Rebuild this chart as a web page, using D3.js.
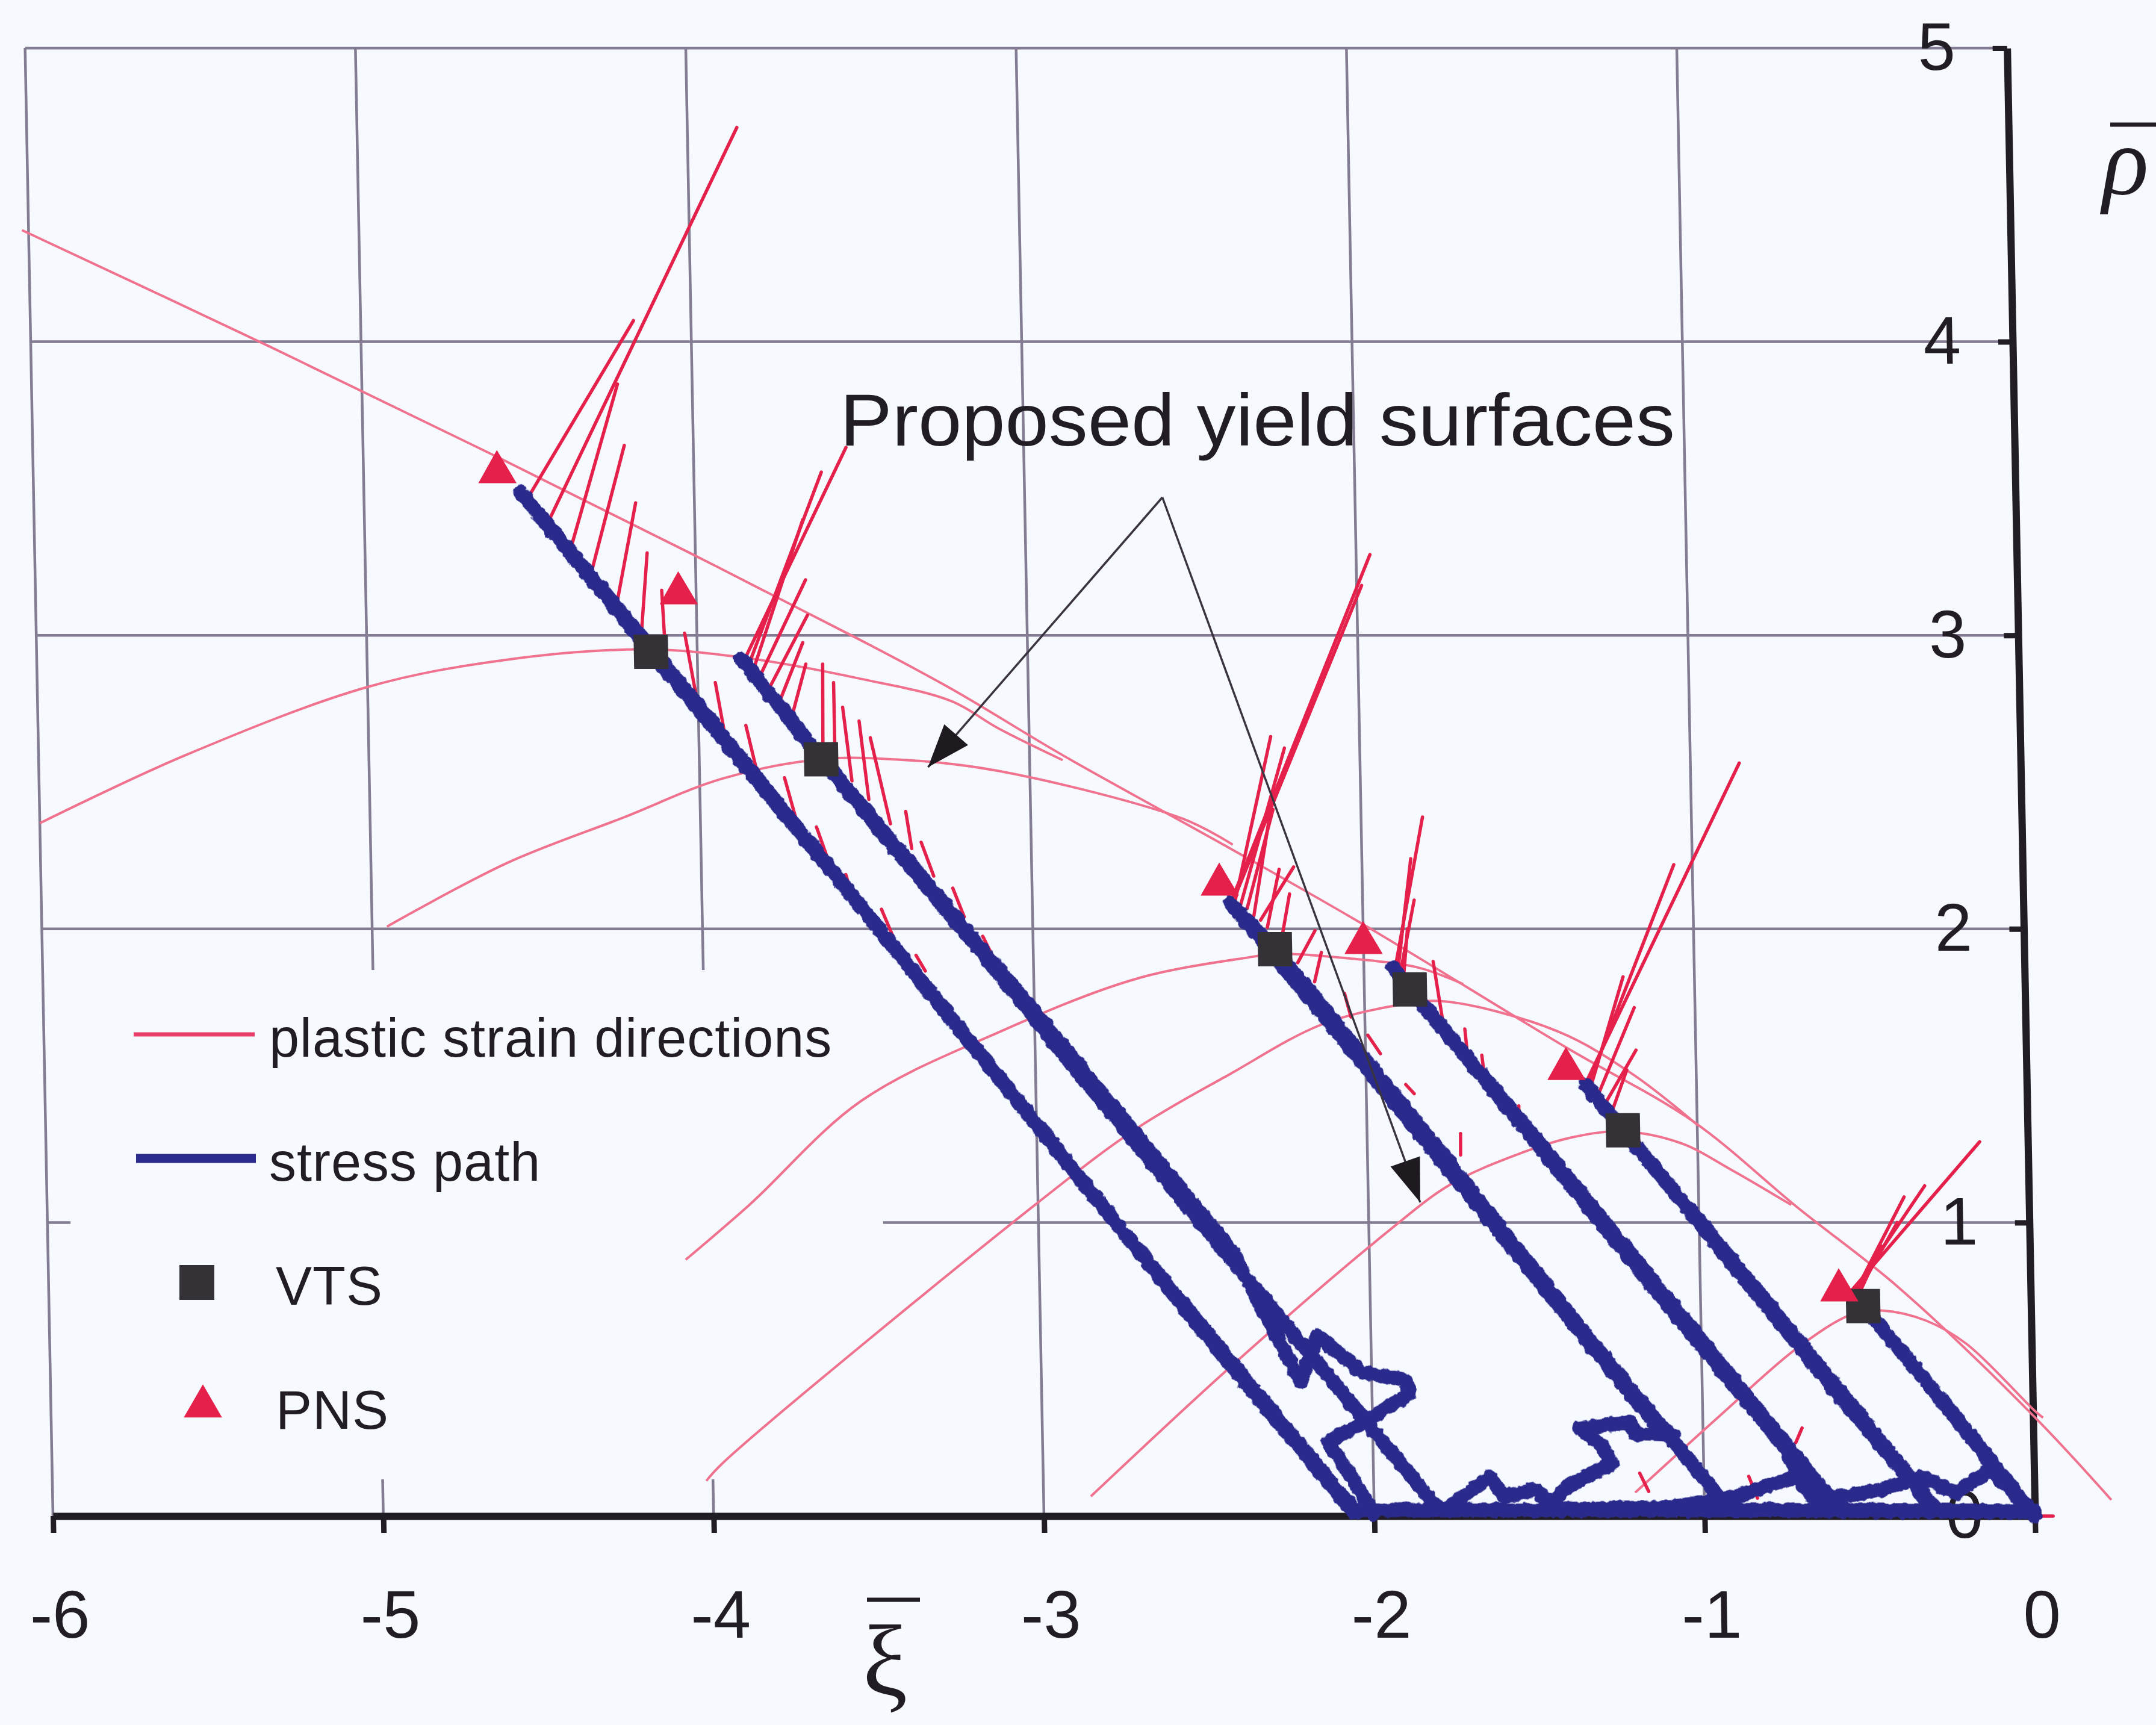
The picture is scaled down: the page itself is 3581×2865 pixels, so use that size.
<!DOCTYPE html>
<html>
<head>
<meta charset="utf-8">
<script src="https://cdn.jsdelivr.net/npm/d3@7"></script>
<style>
  html, body { margin: 0; padding: 0; background: #f6f9fd; }
  svg { display: block; }
</style>
</head>
<body>
<svg id="chart" width="3581" height="2865"></svg>
<script>
// ---------- axes ----------
const xTicks = [-6, -5, -4, -3, -2, -1, 0];
const yTicks = [0, 1, 2, 3, 4, 5];
const gridX = [-6, -5, -4, -3, -2, -1];
const gridY = [1, 2, 3, 4, 5];

// ---------- yield surfaces (xi, rho) ----------
const envelope = [[-6.02,4.38],[-5.27,3.98],[-4.593,3.607],[-4.014,3.279],[-3.526,2.996],[-3.233,2.818],
  [-2.897,2.590],[-2.401,2.276],[-1.999,2.015],[-1.392,1.596],[-1.013,1.345],[-0.70,1.05],[-0.40,0.779],
  [0.004,0.338],[0.232,0.055]];
const surface1 = [[-6.0,2.36],[-5.559,2.590],[-4.997,2.825],[-4.577,2.917],[-4.158,2.952],[-3.853,2.923],
  [-3.507,2.852],[-3.234,2.776],[-3.091,2.682],[-2.90,2.575]];
const surface2 = [[-4.955,2.008],[-4.589,2.224],[-4.234,2.379],[-3.931,2.512],[-3.631,2.578],[-3.40,2.577],
  [-3.094,2.538],[-2.539,2.375],[-2.39,2.287]];
const surface3 = [[-4.07,0.873],[-3.872,1.062],[-3.531,1.413],[-3.109,1.648],[-2.687,1.831],[-2.337,1.905],
  [-2.268,1.915],[-2.05,1.90],[-1.835,1.868],[-1.70,1.812]];
const surface4 = [[-4.02,0.12],[-3.97,0.18],[-3.007,1.062],[-2.696,1.321],[-2.414,1.504],[-2.132,1.674],
  [-1.90,1.74],[-1.757,1.753],[-1.415,1.650],[-1.186,1.50],[-0.997,1.33]];
const surface5 = [[-2.857,0.067],[-2.415,0.52],[-1.953,0.96],[-1.75,1.13],[-1.55,1.23],[-1.38,1.29],
  [-1.225,1.31],[-1.05,1.27],[-0.90,1.18],[-0.72,1.06]];
const surface6 = [[-1.209,0.08],[-0.95,0.34],[-0.706,0.576],[-0.539,0.689],[-0.45,0.70],[-0.319,0.666],
  [-0.198,0.587],[0.004,0.36],[0.03,0.335]];

// ---------- stress paths (xi, rho) ----------
const path1 = [[0,0.01],[-0.069,0.089],[-0.137,0.157],[-0.235,0.078],[-0.343,0.134],[-0.467,0.089],[-0.638,0.055],
  [-0.706,0.135],[-0.816,0.101],[-0.898,0.067],[-1.10,0.03],[-1.443,0.021],[-1.511,0.089],[-1.607,0.067],
  [-1.647,0.134],[-1.786,0.021],[-2.06,0.02],[-2.81,1.06],[-3.55,2.12],[-4.14,2.944],[-4.526,3.488],
  [-4.12,2.93],[-3.31,1.78],[-2.431,0.52],[-2.06,0.01]];
const path2 = [[0,0.015],[-0.9,0.02],[-1.40,0.02],[-1.802,0.02],[-2.553,1.062],[-3.20,1.98],[-3.631,2.578],
  [-3.869,2.923],[-3.62,2.57],[-2.90,1.58],[-2.409,0.892],[-2.215,0.457],[-2.161,0.613],[-2.028,0.49],
  [-1.894,0.463],[-1.886,0.416],[-2.014,0.327],[-2.134,0.253],[-2.05,0.10],[-2.003,0.01]];
const path3 = [[0,0.015],[-0.5,0.02],[-0.923,0.02],[-1.40,0.69],[-1.855,1.35],[-2.268,1.931],[-2.400,2.088],
  [-2.10,1.67],[-1.60,0.96],[-1.149,0.32],[-1.087,0.273],[-1.205,0.28],[-1.222,0.321],[-1.374,0.297],
  [-1.308,0.239],[-1.276,0.178],[-1.411,0.103],[-1.48,0.021]];
const path4 = [[0,0.015],[-0.591,0.02],[-1.10,0.74],[-1.50,1.30],[-1.862,1.794],[-1.912,1.868],[-1.60,1.43],
  [-1.10,0.72],[-0.75,0.23],[-0.70,0.10],[-0.64,0.03]];
const path5 = [[0,0.015],[-0.297,0.02],[-0.80,0.73],[-1.225,1.314],[-1.337,1.470],[-1.00,1.00],[-0.60,0.43],
  [-0.36,0.10],[-0.31,0.02]];
const path6 = [[0,0.0],[-0.25,0.36],[-0.508,0.715],[-0.30,0.43],[-0.02,0.02]];

// ---------- plastic strain directions: [xi base, rho base, xi tip, rho tip] ----------
const dirs1 = [[-4.499,3.477,-4.174,4.072],[-4.440,3.394,-3.850,4.730],[-4.376,3.299,-4.226,3.856],
  [-4.313,3.226,-4.209,3.647],[-4.240,3.111,-4.178,3.451],[-4.167,3.017,-4.146,3.281],[-4.098,2.990,-4.104,3.153],
  [-4.000,2.755,-4.037,3.007],[-3.918,2.640,-3.947,2.839],[-3.822,2.515,-3.857,2.693],[-3.709,2.368,-3.743,2.515],
  [-3.618,2.243,-3.649,2.347],[-3.546,2.117,-3.563,2.185],[-3.424,1.975,-3.457,2.067],[-3.328,1.857,-3.355,1.910]];
const dirs2 = [[-3.857,2.918,-3.538,3.640],[-3.844,2.902,-3.614,3.556],[-3.830,2.886,-3.673,3.394],
  [-3.812,2.860,-3.668,3.189],[-3.785,2.818,-3.664,3.069],[-3.753,2.776,-3.680,2.975],[-3.717,2.724,-3.672,2.902],
  [-3.625,2.619,-3.621,2.902],[-3.589,2.557,-3.589,2.839],[-3.539,2.504,-3.563,2.755],[-3.489,2.441,-3.514,2.708],
  [-3.425,2.358,-3.481,2.651],[-3.362,2.274,-3.378,2.400],[-3.297,2.180,-3.333,2.295],[-3.207,2.041,-3.240,2.139],
  [-3.119,1.897,-3.152,1.975],[-2.990,1.687,-3.016,1.766]];
const dirs3 = [[-2.400,2.088,-1.958,3.275],[-2.392,2.095,-1.985,3.170],[-2.385,2.100,-2.269,2.655],
  [-2.370,2.080,-2.228,2.616],[-2.350,2.070,-2.266,2.407],[-2.330,2.045,-2.274,2.402],[-2.310,2.030,-2.207,2.211],
  [-2.290,2.005,-2.251,2.203],[-2.250,1.950,-2.221,2.119],[-2.200,1.885,-2.146,1.994],[-2.150,1.820,-2.128,1.920],
  [-2.042,1.700,-2.060,1.780],[-1.955,1.575,-1.992,1.638],[-1.855,1.439,-1.880,1.470],[-1.718,1.230,-1.717,1.303]];
const dirs4 = [[-1.905,1.868,-1.814,2.381],[-1.897,1.860,-1.852,2.239],[-1.890,1.850,-1.844,2.098],
  [-1.880,1.840,-1.866,2.000],[-1.760,1.653,-1.790,1.889],[-1.690,1.554,-1.698,1.659],[-1.640,1.483,-1.648,1.570],
  [-1.540,1.342,-1.539,1.397]];
const dirs5 = [[-1.337,1.470,-0.852,2.565],[-1.330,1.462,-1.056,2.219],[-1.322,1.455,-1.216,1.837],
  [-1.300,1.430,-1.184,1.732],[-1.280,1.400,-1.181,1.587],[-1.260,1.370,-1.210,1.520],[-1.170,1.240,-1.190,1.340],
  [-1.100,1.140,-1.120,1.205],[-1.020,1.030,-1.040,1.085]];
const dirs6 = [[-0.545,0.765,-0.146,1.275],[-0.540,0.760,-0.315,1.125],[-0.535,0.755,-0.378,1.087],
  [-0.530,0.750,-0.400,1.000],[-0.525,0.745,-0.450,0.920],[-1.168,0.084,-1.194,0.146],[-0.839,0.061,-0.864,0.135],
  [-0.72,0.25,-0.70,0.30],[-0.02,0.0,0.055,0.0]];

// ---------- characteristic points ----------
const vtsPoints = [[-4.140,2.944],[-3.631,2.578],[-2.268,1.931],[-1.862,1.794],[-1.225,1.314],[-0.508,0.715]];
const pnsPoints = [[-4.595,3.556],[-4.053,3.143],[-2.432,2.151],[-2.000,1.952],[-1.393,1.523],[-0.580,0.769]];

// ---------- labels ----------
const legendLabels = ["plastic strain directions", "stress path", "VTS", "PNS"];
const annotationText = "Proposed yield surfaces";
const annotationApex = [-2.583, 3.470];
const annotationTips = [[-3.308, 2.551], [-1.843, 1.0685]];
const xTitle = "ξ";
const yTitle = "ρ";

// ---------- drawing ----------
const W = 3581, H = 2865;
const BG = "#f6f9fd";
const INK = "#221c24";
const PINK = "#f0728f";
const RED = "#e4204b";
const NAVY = "#2a2b8d";
const GRID = "#847c92";
const FONT = "'Liberation Sans', Arial, sans-serif";

const x = d3.scaleLinear().domain([-6, 0]).range([88, 3380]);
const y = d3.scaleLinear().domain([0, 5]).range([2518, 80]);

const svg = d3.select("#chart");
svg.append("rect").attr("width", W).attr("height", H).attr("fill", BG);

const defs = svg.append("defs");
defs.append("marker")
  .attr("id", "arrowhead")
  .attr("markerUnits", "userSpaceOnUse")
  .attr("viewBox", "-74 -30 76 60")
  .attr("markerWidth", 76).attr("markerHeight", 60)
  .attr("refX", 0).attr("refY", 0)
  .attr("orient", "auto")
  .append("path").attr("d", "M0,0L-72,-26L-72,26Z").attr("fill", "#1e1a20");

// rough edge for the recorded (noisy) stress paths
const rough = defs.append("filter").attr("id", "rough")
  .attr("x", "-5%").attr("y", "-5%").attr("width", "110%").attr("height", "110%");
rough.append("feTurbulence").attr("type", "fractalNoise").attr("baseFrequency", 0.09)
  .attr("numOctaves", 2).attr("seed", 3).attr("result", "noise");
rough.append("feDisplacementMap").attr("in", "SourceGraphic").attr("in2", "noise")
  .attr("scale", 9).attr("xChannelSelector", "R").attr("yChannelSelector", "G");

// the plotting frame leans slightly, as the printed figure does
const lean = Math.atan(0.019) * 180 / Math.PI;
const plot = svg.append("g")
  .attr("transform", `translate(0,${y(0)}) skewX(${lean}) translate(0,${-y(0)})`);

// grid
plot.append("g").selectAll("line").data(gridX).join("line")
  .attr("x1", d => x(d)).attr("x2", d => x(d))
  .attr("y1", y(0)).attr("y2", y(5))
  .attr("stroke", GRID).attr("stroke-width", 4.5);
plot.append("g").selectAll("line").data(gridY).join("line")
  .attr("x1", x(-6)).attr("x2", x(0))
  .attr("y1", d => y(d)).attr("y2", d => y(d))
  .attr("stroke", GRID).attr("stroke-width", 4.5);

// legend backing hides the grid behind it
plot.append("rect")
  .attr("x", x(-5.93)).attr("y", y(1.86))
  .attr("width", x(-3.47) - x(-5.93)).attr("height", y(0.125) - y(1.86))
  .attr("fill", BG);

// axes
const xAxis = d3.axisBottom(x).tickValues(xTicks).tickFormat(d => String(d))
  .tickSize(28).tickPadding(94).tickSizeOuter(0);
const gx = plot.append("g").attr("transform", `translate(0,${y(0)})`).call(xAxis)
  .attr("font-size", 112).attr("font-family", FONT).attr("color", INK);
gx.select(".domain").attr("stroke-width", 12);
gx.selectAll(".tick line").attr("stroke-width", 9);
gx.selectAll(".tick text").attr("dx", 8);

const yAxis = d3.axisLeft(y).tickValues(yTicks).tickFormat(d => String(d))
  .tickSize(24).tickPadding(62).tickSizeOuter(0);
const gy = plot.append("g").attr("transform", `translate(${x(0)},0)`).call(yAxis)
  .attr("font-size", 112).attr("font-family", FONT).attr("color", INK);
gy.select(".domain").attr("stroke-width", 12);
gy.selectAll(".tick line").attr("stroke-width", 9);

// yield surfaces
const smooth = d3.line().x(d => x(d[0])).y(d => y(d[1])).curve(d3.curveCatmullRom.alpha(0.5));
const surfaces = [envelope, surface1, surface2, surface3, surface4, surface5, surface6];
plot.append("g").selectAll("path").data(surfaces).join("path")
  .attr("d", smooth).attr("fill", "none")
  .attr("stroke", PINK).attr("stroke-width", 4);

// plastic strain directions
const dirs = [].concat(dirs1, dirs2, dirs3, dirs4, dirs5, dirs6);
plot.append("g").selectAll("line").data(dirs).join("line")
  .attr("x1", d => x(d[0])).attr("y1", d => y(d[1]))
  .attr("x2", d => x(d[2])).attr("y2", d => y(d[3]))
  .attr("stroke", RED).attr("stroke-width", 5.5).attr("stroke-linecap", "round");

// stress paths
const straight = d3.line().x(d => x(d[0])).y(d => y(d[1]));
const paths = [path1, path2, path3, path4, path5, path6];
plot.append("g").attr("filter", "url(#rough)")
  .selectAll("path").data(paths).join("path")
  .attr("d", straight).attr("fill", "none")
  .attr("stroke", NAVY).attr("stroke-width", 24)
  .attr("stroke-linejoin", "round").attr("stroke-linecap", "round");

// markers
const square = d3.symbol().type(d3.symbolSquare).size(57 * 57);
const triangle = d3.symbol().type(d3.symbolTriangle).size(1750);
plot.append("g").selectAll("path").data(vtsPoints).join("path")
  .attr("d", square).attr("transform", d => `translate(${x(d[0])},${y(d[1])})`)
  .attr("fill", "#343236");
plot.append("g").selectAll("path").data(pnsPoints).join("path")
  .attr("d", triangle).attr("transform", d => `translate(${x(d[0])},${y(d[1])})`)
  .attr("fill", RED);

// annotation arrows
plot.append("g").selectAll("line").data(annotationTips).join("line")
  .attr("x1", x(annotationApex[0])).attr("y1", y(annotationApex[1]))
  .attr("x2", d => x(d[0])).attr("y2", d => y(d[1]))
  .attr("stroke", "#3a3440").attr("stroke-width", 3.5)
  .attr("marker-end", "url(#arrowhead)");

// annotation text
svg.append("text")
  .attr("x", 1395).attr("y", 740)
  .attr("font-family", FONT).attr("font-size", 122)
  .attr("textLength", 1387).attr("lengthAdjust", "spacingAndGlyphs")
  .attr("fill", INK).text(annotationText);

// legend
const legend = svg.append("g").attr("font-family", FONT).attr("font-size", 90).attr("fill", INK);
const rowY = i => 1718 + i * 206;
legend.selectAll("text").data(legendLabels).join("text")
  .attr("x", (d, i) => i < 2 ? 447 : 458)
  .attr("y", (d, i) => rowY(i) + 37)
  .attr("letter-spacing", 1)
  .text(d => d);
legend.append("line").attr("x1", 222).attr("x2", 423).attr("y1", rowY(0)).attr("y2", rowY(0))
  .attr("stroke", "#e8406a").attr("stroke-width", 7);
legend.append("line").attr("x1", 226).attr("x2", 425).attr("y1", rowY(1)).attr("y2", rowY(1))
  .attr("stroke", NAVY).attr("stroke-width", 15);
legend.append("path").attr("d", d3.symbol().type(d3.symbolSquare).size(58 * 58)())
  .attr("transform", `translate(327,${rowY(2)})`).attr("fill", "#343236");
legend.append("path").attr("d", d3.symbol().type(d3.symbolTriangle).size(1750)())
  .attr("transform", `translate(337,${rowY(3)})`).attr("fill", RED);

// axis titles
svg.append("text").attr("x", 1470).attr("y", 2815).attr("text-anchor", "middle")
  .attr("font-family", "'Liberation Serif', 'Times New Roman', serif").attr("font-size", 168)
  .attr("fill", INK).text(xTitle);
svg.append("line").attr("x1", 1440).attr("x2", 1528).attr("y1", 2657).attr("y2", 2657)
  .attr("stroke", INK).attr("stroke-width", 7);
svg.append("text").attr("x", 3492).attr("y", 322)
  .attr("font-family", "'Liberation Serif', 'Times New Roman', serif").attr("font-size", 160)
  .attr("font-style", "italic").attr("fill", INK).text(yTitle);
svg.append("line").attr("x1", 3505).attr("x2", 3581).attr("y1", 207).attr("y2", 207)
  .attr("stroke", INK).attr("stroke-width", 7);
</script>
</body>
</html>
